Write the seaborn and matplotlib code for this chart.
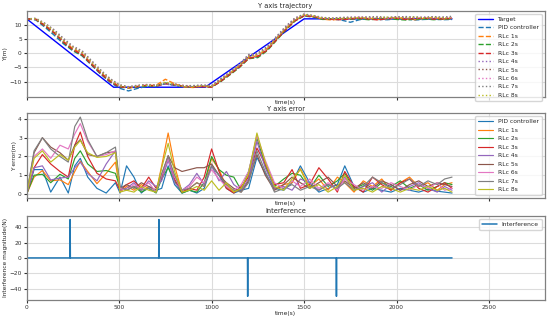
import numpy as np
import pandas as pd
import matplotlib
matplotlib.use("Agg")
import matplotlib.pyplot as plt
import seaborn as sns

# time grids (s)
t_traj = list(range(0, 2301, 50))
t_err = [0, 40, 85, 130, 180, 225, 260, 290, 330, 380, 430, 480, 505, 540, 580, 620, 660, 700,
         730, 765, 800, 840, 880, 920, 960, 1000, 1040, 1080, 1120, 1160, 1200, 1245, 1290, 1340,
         1390, 1435, 1480, 1530, 1580, 1630, 1680, 1720, 1770, 1820, 1870, 1920, 1970, 2020, 2070,
         2120, 2170, 2220, 2260, 2300]

# target trajectory breakpoints
t_target = [0, 470, 965, 1500, 2300]
y_target = [12, -12, -12, 12, 12]

labels = ["PID controller", "RLc 1s", "RLc 2s", "RLc 3s", "RLc 4s",
          "RLc 5s", "RLc 6s", "RLc 7s", "RLc 8s"]

# Y trajectories
y_pid = [12, 11.6, 9.0, 6.2, 3.2, 0.8, -1.0, -4.2, -7.4, -10.2, -12.3, -13.3, -12.4, -11.7, -11.8, -10.7,
         -11.4, -12.0, -11.9, -11.7, -11.9, -9.8, -7.3, -4.8, -1.7, -1.3, 1.2, 4.8, 8.3, 11.4, 13.0, 12.6,
         11.9, 12.0, 11.6, 10.8, 11.7, 12.1, 11.8, 11.7, 12.0, 11.9, 11.6, 11.8, 11.9, 11.7, 11.8]
y_rl1 = [12, 11.9, 9.7, 7.2, 4.0, 1.6, -0.3, -3.6, -6.8, -9.6, -11.6, -12.3, -11.8, -11.4, -11.3, -9.2,
         -10.8, -11.9, -12.1, -11.6, -11.8, -9.6, -7.1, -4.5, -1.6, -0.9, 1.4, 4.9, 8.4, 11.5, 13.3, 12.8,
         11.9, 11.6, 12.0, 12.1, 12.4, 12.2, 11.8, 12.1, 12.5, 12.0, 11.7, 12.2, 12.4, 11.9, 12.3]
y_rl2 = [12, 11.8, 9.4, 6.9, 3.6, 0.9, -0.8, -4.0, -7.2, -10.0, -11.9, -12.2, -11.8, -11.6, -11.5, -10.5,
         -11.2, -11.8, -11.8, -11.7, -11.9, -10.0, -7.6, -5.1, -2.0, -1.6, 0.8, 4.4, 8.0, 11.2, 13.1, 12.7,
         11.8, 11.9, 12.1, 11.9, 12.0, 11.7, 11.9, 12.2, 11.8, 11.6, 11.9, 12.0, 11.7, 11.9, 12.0]
y_rl3 = [12, 11.8, 9.5, 7.0, 3.8, 1.2, -0.6, -3.9, -7.1, -9.9, -11.8, -12.2, -11.7, -11.3, -11.6, -10.8,
         -11.1, -11.7, -11.9, -11.8, -12.0, -9.9, -7.4, -4.9, -1.9, -1.2, 1.0, 4.6, 8.2, 11.3, 13.1, 12.8,
         12.1, 11.8, 11.7, 12.0, 12.2, 12.0, 11.6, 12.1, 12.2, 11.8, 12.1, 12.3, 11.9, 12.0, 12.2]
y_rl4 = [12, 12.0, 10.0, 7.5, 4.3, 1.8, 0.0, -3.3, -6.6, -9.4, -11.5, -12.0, -11.6, -11.4, -11.5, -10.9,
         -11.4, -11.8, -11.6, -11.3, -11.6, -9.3, -6.9, -4.4, -1.1, -0.5, 1.8, 5.3, 8.8, 11.8, 13.4, 13.0,
         12.2, 12.0, 12.3, 12.4, 12.6, 12.3, 12.5, 12.2, 12.6, 12.4, 12.2, 12.5, 12.3, 12.6, 12.4]
y_rl5 = [12, 12.1, 10.2, 7.8, 4.6, 2.0, 0.3, -3.0, -6.3, -9.2, -11.3, -12.0, -11.5, -11.2, -11.4, -10.6,
         -11.0, -11.4, -11.7, -11.5, -11.6, -9.2, -6.8, -4.2, -0.9, -0.3, 2.0, 5.5, 9.0, 12.0, 13.5, 13.0,
         12.3, 12.1, 12.2, 12.4, 12.5, 12.6, 12.3, 12.4, 12.7, 12.5, 12.3, 12.4, 12.6, 12.3, 12.5]
y_rl6 = [12, 12.1, 10.3, 8.0, 4.9, 2.2, 0.6, -2.8, -6.1, -9.0, -11.2, -11.9, -11.4, -11.0, -11.2, -10.5,
         -10.8, -11.4, -11.5, -11.4, -11.5, -9.0, -6.6, -4.0, -0.7, -0.1, 2.2, 5.7, 9.2, 12.2, 13.6, 13.1,
         12.4, 12.2, 12.4, 12.5, 12.7, 12.4, 12.6, 12.3, 12.5, 12.7, 12.4, 12.6, 12.5, 12.4, 12.6]
y_rl7 = [12, 12.2, 10.4, 8.1, 5.1, 2.4, 0.8, -2.6, -5.9, -8.9, -11.1, -11.8, -11.3, -11.1, -11.3, -10.7,
         -10.9, -11.5, -11.4, -11.2, -11.4, -8.9, -6.5, -3.9, -0.5, 0.0, 2.3, 5.8, 9.3, 12.3, 13.7, 13.2,
         12.5, 12.3, 12.5, 12.6, 12.4, 12.7, 12.8, 12.5, 12.6, 12.8, 12.7, 12.5, 12.8, 12.6, 12.9]
y_rl8 = [12, 12.0, 10.1, 7.6, 4.4, 1.9, 0.2, -3.2, -6.4, -9.3, -11.4, -12.1, -11.6, -11.3, -11.5, -10.2,
         -11.0, -11.7, -11.8, -11.5, -11.7, -9.4, -7.0, -4.3, -1.2, -0.6, 1.7, 5.2, 8.7, 11.7, 13.5, 13.1,
         12.3, 12.1, 12.2, 12.3, 12.5, 12.2, 12.4, 12.6, 12.3, 12.4, 12.6, 12.3, 12.5, 12.4, 12.3]

# Y errors
e_pid = [0, 1.3, 1.3, 0.1, 0.9, 0.05, 1.5, 1.9, 0.9, 0.3, 0.05, 0.6, 0.05, 1.5, 0.9, 0.05, 0.4, 0.2,
         0.3, 1.5, 0.5, 0.05, 0.2, 0.05, 0.3, 1.5, 1.0, 0.3, 0.05, 0.2, 0.3, 1.95, 1.1, 0.3,
         0.2, 0.6, 1.5, 0.6, 0.1, 0.3, 0.5, 1.5, 0.4, 0.1, 0.3, 0.2, 0.1, 0.3, 0.2,
         0.1, 0.25, 0.15, 0.1, 0.05]
e_rl1 = [0, 0.9, 1.25, 0.7, 0.75, 0.5, 1.2, 1.75, 1.2, 0.55, 1.1, 1.7, 0.1, 0.4, 0.2, 0.5, 0.3, 0.1,
         1.5, 3.25, 1.5, 0.1, 0.3, 0.6, 0.4, 1.9, 1.3, 0.4, 0.1, 0.3, 1.0, 3.1, 1.6, 0.3,
         0.5, 0.6, 1.35, 0.4, 0.8, 0.2, 0.9, 0.6, 0.1, 0.7, 0.4, 0.8, 0.2, 0.6, 0.9,
         0.4, 0.6, 0.2, 0.5, 0.6]
e_rl2 = [0, 1.0, 1.05, 0.6, 1.05, 0.8, 1.9, 2.3, 1.6, 1.2, 1.25, 1.1, 0.3, 0.2, 0.4, 0.1, 0.3, 0.05,
         0.8, 1.4, 0.7, 0.05, 0.2, 0.1, 0.6, 2.0, 1.3, 1.0, 0.9, 0.2, 1.2, 3.0, 1.5, 0.4,
         0.8, 1.1, 1.0, 0.3, 1.0, 0.4, 0.7, 1.1, 0.3, 0.5, 0.2, 0.6, 0.4, 0.7, 0.3,
         0.5, 0.2, 0.4, 0.6, 0.5]
e_rl3 = [0, 1.4, 2.1, 1.6, 1.2, 0.9, 2.6, 3.3, 2.0, 1.1, 0.8, 0.7, 0.2, 0.5, 0.7, 0.3, 0.9, 0.3,
         0.9, 1.95, 0.8, 0.1, 0.3, 0.2, 0.9, 2.4, 1.2, 0.3, 0.05, 0.4, 0.9, 2.45, 1.6, 0.5,
         0.6, 1.3, 0.3, 0.5, 1.4, 0.8, 0.1, 1.2, 0.4, 0.1, 0.9, 0.5, 0.2, 0.6, 0.8,
         0.3, 0.1, 0.4, 0.6, 0.3]
e_rl4 = [0, 1.4, 1.5, 0.75, 0.85, 0.9, 1.4, 1.7, 1.1, 0.7, 1.6, 2.3, 0.2, 0.3, 0.6, 0.2, 0.7, 0.4,
         0.7, 1.8, 0.6, 0.2, 0.5, 1.1, 0.5, 1.5, 0.7, 1.2, 0.5, 0.2, 0.8, 2.8, 1.4, 0.3,
         0.4, 0.2, 0.8, 0.6, 0.2, 0.5, 0.3, 0.9, 0.2, 0.4, 0.6, 0.1, 0.5, 0.2, 0.4,
         0.6, 0.3, 0.1, 0.4, 0.2]
e_rl5 = [0, 2.2, 3.0, 2.5, 2.2, 1.8, 2.6, 2.9, 2.1, 2.0, 2.2, 2.25, 0.3, 0.5, 0.3, 0.6, 0.4, 0.2,
         1.0, 2.05, 1.4, 1.2, 1.3, 1.4, 1.4, 1.6, 1.0, 0.6, 0.3, 0.1, 0.7, 2.1, 1.0, 0.2,
         0.5, 0.9, 0.6, 0.3, 0.6, 0.9, 0.4, 0.7, 0.3, 0.6, 0.3, 0.7, 0.5, 0.2, 0.5,
         0.7, 0.4, 0.6, 0.5, 0.4]
e_rl6 = [0, 2.0, 2.4, 1.9, 2.6, 2.4, 3.2, 3.75, 2.8, 2.0, 2.1, 2.3, 0.3, 0.2, 0.5, 0.3, 0.6, 0.1,
         1.0, 1.9, 0.9, 0.2, 0.4, 0.9, 0.6, 1.3, 0.8, 0.4, 0.2, 0.5, 1.2, 3.1, 1.8, 0.6,
         0.3, 0.7, 0.4, 0.8, 0.3, 0.6, 0.2, 0.8, 0.5, 0.2, 0.4, 0.3, 0.6, 0.4, 0.2,
         0.5, 0.3, 0.6, 0.2, 0.3]
e_rl7 = [0, 2.3, 3.0, 2.4, 2.0, 1.7, 3.6, 4.1, 2.9, 2.0, 2.2, 2.5, 0.4, 0.2, 0.4, 0.2, 0.3, 0.1,
         1.1, 2.0, 1.0, 0.2, 0.3, 0.6, 0.4, 1.5, 1.0, 0.5, 0.2, 0.1, 0.6, 2.3, 1.2, 0.1,
         0.3, 0.5, 0.2, 0.4, 0.2, 0.5, 0.3, 0.6, 0.2, 0.4, 0.9, 0.6, 0.3, 0.5, 0.8,
         0.4, 0.7, 0.5, 0.8, 0.9]
e_rl8 = [0, 1.9, 2.3, 1.7, 2.1, 1.8, 2.5, 2.85, 2.2, 1.95, 2.0, 2.2, 0.1, 0.2, 0.1, 0.4, 0.2, 0.1,
         1.4, 2.7, 1.2, 0.1, 0.2, 0.4, 0.2, 0.7, 0.2, 0.6, 0.1, 0.3, 1.1, 3.25, 1.7, 0.4,
         0.2, 0.8, 1.3, 0.3, 0.5, 0.1, 0.4, 1.0, 0.2, 0.3, 0.1, 0.4, 0.3, 0.1, 0.3,
         0.2, 0.4, 0.2, 0.3, 0.1]

# interference pulses
t_int = [0, 234, 235, 236, 714, 715, 716, 1194, 1195, 1196, 1674, 1675, 1676, 2300]
f_int = [0, 0, 50, 0, 0, 50, 0, 0, -50, 0, 0, -50, 0, 0]

traj_series = [y_pid, y_rl1, y_rl2, y_rl3, y_rl4, y_rl5, y_rl6, y_rl7, y_rl8]
err_series = [e_pid, e_rl1, e_rl2, e_rl3, e_rl4, e_rl5, e_rl6, e_rl7, e_rl8]
colors = sns.color_palette("tab10", 9)
styles = ["--", "--", "--", "--", ":", ":", ":", ":", ":"]

sns.set_style("whitegrid", {"axes.edgecolor": "#808080", "grid.color": "#dcdcdc",
                            "xtick.bottom": True, "ytick.left": True})
plt.rcParams.update({"font.size": 4.2, "axes.linewidth": 0.9, "grid.linewidth": 0.8,
                     "xtick.major.size": 2, "ytick.major.size": 2,
                     "xtick.color": "#333333", "ytick.color": "#333333"})

fig = plt.figure(figsize=(5.5, 3.21), dpi=100)
ax1 = fig.add_axes([0.0485, 0.699, 0.9415, 0.268])
ax2 = fig.add_axes([0.0485, 0.384, 0.9415, 0.263])
ax3 = fig.add_axes([0.0485, 0.065, 0.9415, 0.263])

# trajectory
sns.lineplot(x=t_target, y=y_target, ax=ax1, color="blue", linewidth=1.0, label="Target")
for y, lab, c, ls in zip(traj_series, labels, colors, styles):
    sns.lineplot(x=t_traj, y=y, ax=ax1, color=c, linestyle=ls, linewidth=1.0, label=lab)
ax1.set_ylim(-15.3, 14.9)
ax1.set_yticks([-10, -5, 0, 5, 10])
ax1.set_title("Y axis trajectory", fontsize=4.8, pad=2)
ax1.set_ylabel("Y(m)", fontsize=4.2, labelpad=1)

# error
for e, lab, c in zip(err_series, labels, colors):
    sns.lineplot(x=t_err, y=e, ax=ax2, color=c, linewidth=0.85, label=lab)
ax2.set_ylim(-0.2, 4.3)
ax2.set_yticks([0, 1, 2, 3, 4])
ax2.set_title("Y axis error", fontsize=4.8, pad=2)
ax2.set_ylabel("Y error(m)", fontsize=4.2, labelpad=1)

# interference
sns.lineplot(x=t_int, y=f_int, ax=ax3, color=colors[0], linewidth=1.1, label="Interference")
ax3.set_ylim(-55, 55)
ax3.set_yticks([-40, -20, 0, 20, 40])
ax3.set_title("Interference", fontsize=4.8, pad=2)
ax3.set_ylabel("Interference magnitude(N)", fontsize=4.2, labelpad=1)

for ax in (ax1, ax2, ax3):
    ax.set_xlim(0, 2800)
    ax.set_xticks([0, 500, 1000, 1500, 2000, 2500])
    ax.set_xlabel("time(s)", fontsize=4.2, labelpad=0.5)
    ax.tick_params(labelsize=4.2, pad=1.5)
    ax.legend(loc="upper right", fontsize=4.3, frameon=True, edgecolor="#cccccc",
              borderpad=0.5, labelspacing=0.55, handlelength=2.4)
for ax in (ax1, ax2):
    ax.tick_params(labelbottom=False)

fig.savefig("out.png", dpi=100)
